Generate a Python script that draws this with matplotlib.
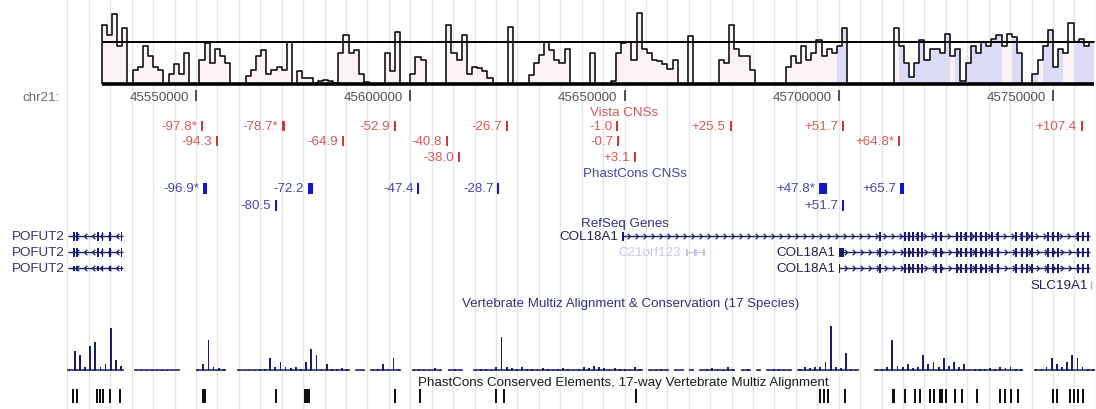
import numpy as np
import matplotlib.pyplot as plt

plt.rcParams['font.family'] = ['Liberation Sans', 'DejaVu Sans']

# chr21 window shown (bp) across the 1096 px wide image
view_start, view_end = 45504260, 45760030
bp_px = (view_end - view_start) / 1096.0
FS = 9.6

# ruler
tick_pos = [45550000, 45600000, 45650000, 45700000, 45750000]

# VISTA percent identity curve, 1.2 kb windows (fraction of full scale)
prof_start = 45528000
prof_step = 1200
prof_vals = [0.85, 0.7, 1.0, 0.55, 0.8, 0, 0.2, 0.25, 0.55, 0.4,
             0.25, 0.2, 0, 0.15, 0.28, 0.15, 0.45, 0, 0, 0.35,
             0.58, 0.3, 0.5, 0.4, 0.3, 0, 0, 0, 0.12, 0.2,
             0.4, 0.48, 0.15, 0.2, 0.25, 0.2, 0.6, 0, 0.18, 0.08,
             0.08, 0.02, 0.05, 0.06, 0.05, 0.02, 0.45, 0.7, 0.45, 0.48,
             0.15, 0.03, 0, 0, 0, 0.45, 0.18, 0.75, 0, 0,
             0.15, 0.38, 0.35, 0, 0, 0, 0, 0.85, 0.45, 0.35,
             0.7, 0.15, 0.25, 0.23, 0.18, 0.08, 0, 0, 0, 0.82,
             0, 0, 0, 0.13, 0.3, 0.42, 0.6, 0.48, 0.35, 0.3,
             0.5, 0, 0, 0, 0, 0.45, 0, 0, 0, 0.05,
             0.45, 0.58, 0.6, 0.35, 1.02, 0.5, 0.45, 0.35, 0.33, 0.28,
             0.22, 0.35, 0, 0, 0.68, 0, 0, 0, 0, 0,
             0.35, 0.3, 0.85, 0.5, 0.4, 0.4, 0.2, 0, 0, 0,
             0, 0, 0, 0.25, 0.4, 0.3, 0.55, 0.35, 0.45, 0.63,
             0.4, 0.5, 0.45, 0.55, 0.8, 0, 0, 0, 0, 0,
             0, 0, 0, 0, 0.8, 0.55, 0.3, 0.1, 0.3, 0.63,
             0.35, 0.5, 0.5, 0.45, 0.72, 0.4, 0.5, 0.05, 0.3, 0.55,
             0.45, 0.6, 0.55, 0.65, 0.7, 0.55, 0.72, 0.67, 0.45, 0,
             0, 0.15, 0.35, 0.55, 0.77, 0.25, 0.5, 0.45, 0.87, 0.6,
             0.65, 0.55, 0.6]
prof_cut = 0.6
# exonic stretches get the blue fill under the curve
exon_shade = [(45520500, 45524500), (45699500, 45701500), (45714500, 45726000),
              (45727000, 45738000), (45741000, 45746000), (45748000, 45752500),
              (45754500, 45760000)]

# CNS labels are kb offsets from the COL18A1 start
col18a1_tss = 45649500
vista_kb = [-97.8, -78.7, -52.9, -26.7, -1.0, 25.5, 51.7, 107.4,
            -94.3, -64.9, -40.8, -0.7, 64.8,
            -38.0, 3.1]
vista_row = [0, 0, 0, 0, 0, 0, 0, 0, 1, 1, 1, 1, 1, 2, 2]
vista_star = [1, 1, 0, 0, 0, 0, 0, 0, 0, 0, 0, 0, 1, 0, 0]
vista_len = [0.45, 0.7, 0.45, 0.45, 0.45, 0.45, 0.45, 0.45,
             0.45, 0.45, 0.45, 0.45, 0.45, 0.45, 0.45]

phast_kb = [-96.9, -72.2, -47.4, -28.7, 47.8, 65.7, -80.5, 51.7]
phast_row = [0, 0, 0, 0, 0, 0, 1, 1]
phast_star = [1, 0, 0, 0, 1, 0, 0, 0]
phast_len = [0.9, 1.2, 0.45, 0.45, 1.9, 0.9, 0.45, 0.45]

# RefSeq gene models (kb)
pofut2_span = (45520.1, 45533.0)
pofut2_exons = [45521.5, 45522.2, 45527.1, 45528.1, 45529.9, 45532.6]
col18a1_end = 45758.6
col18a1_short_start = 45700.0
col18a1_exons = [45709.6, 45715.5, 45716.4, 45717.3, 45718.5, 45719.4, 45722.7,
                 45723.9, 45727.6, 45728.5, 45729.7, 45730.9, 45732.0, 45733.2,
                 45734.4, 45735.8, 45737.2, 45741.4, 45742.8, 45743.9, 45745.1,
                 45748.8, 45750.0, 45751.2, 45755.8, 45757.0, 45758.2]
c21orf123_span = (45664.3, 45668.8)
c21orf123_exons = [45664.5, 45666.4, 45668.5]

# Multiz conservation, 1.2 kb windows (-1 = no alignment)
cons_start = 45519900
cons_step = 1200
cons_vals = [0.05, 0.45, 0.35, 0.1, 0.55, 0.65, 0.1, 0.15, 0.95, 0.25,
             0.12, -1, -1, 0.03, 0.03, 0.03, 0.03, 0.03, 0.03, 0.03,
             0.03, 0.03, -1, -1, -1, 0.05, 0.15, 0.7, 0.1, 0.06,
             0.05, -1, -1, 0.03, 0.03, 0.04, 0.03, 0.05, 0.04, 0.3,
             0.08, 0.2, 0.08, 0.06, 0.1, 0.05, 0.2, 0.5, 0.35, 0.05,
             0.15, 0.04, 0.04, 0.06, 0.04, -1, 0.03, 0.03, -1, 0.03,
             0.05, 0.15, 0.04, 0.3, 0.05, -1, -1, 0.03, 0.05, 0.03,
             0.02, 0.06, 0.03, -1, 0.03, 0.05, 0.03, -1, -1, 0.03,
             0.04, 0.05, 0.03, 0.1, 0.75, 0.08, 0.06, 0.05, 0.08, 0.05,
             0.04, 0.05, 0.06, 0.04, 0.03, 0.04, 0.06, 0.04, 0.03, 0.05,
             0.08, 0.06, 0.12, 0.08, 0.06, 0.05, 0.06, 0.04, 0.05, 0.03,
             0.1, 0.04, -1, 0.03, 0.03, 0.04, 0.03, -1, 0.03, 0.03,
             -1, 0.03, -1, 0.03, 0.04, 0.06, 0.05, 0.03, 0.08, 0.05,
             -1, 0.03, 0.04, -1, 0.03, -1, 0.03, 0.05, 0.04, 0.03,
             0.04, -1, 0.05, 0.08, 0.06, 0.1, 0.08, 0.2, 1.0, 0.1,
             0.06, 0.4, 0.04, 0.03, -1, -1, -1, 0.03, 0.05, 0.1,
             0.7, 0.12, 0.08, 0.15, 0.06, 0.1, 0.35, 0.15, 0.2, 0.1,
             0.3, 0.12, 0.2, 0.08, 0.15, 0.05, 0.04, 0.05, 0.04, 0.06,
             0.05, 0.1, 0.06, 0.1, 0.05, 0.04, -1, -1, 0.04, 0.05,
             0.08, 0.3, 0.15, 0.1, 0.2, 0.35, 0.3, 0.1, 0.05, 0.04]

# PhastCons conserved elements: centre (kb) and length (kb)
elem_kb = [45521.3, 45522.2, 45526.9, 45527.6, 45528.3, 45529.9, 45532.3,
           45551.9, 45568.7, 45575.9, 45596.4, 45602.3, 45620.0, 45621.9,
           45652.7, 45695.6, 45696.6, 45697.5, 45701.5, 45712.7, 45715.5,
           45717.8, 45719.0, 45721.3, 45722.2, 45723.9, 45725.0, 45727.1,
           45728.8, 45732.3, 45737.6, 45738.8, 45740.2, 45741.8, 45750.0,
           45750.9, 45754.0, 45754.9, 45755.8, 45757.0]
elem_len = [0.35, 0.35, 0.35, 0.35, 0.35, 0.35, 0.35,
            0.9, 0.35, 1.4, 0.35, 0.35, 0.45, 0.45,
            0.35, 0.45, 0.45, 0.45, 0.45, 0.7, 0.45,
            0.45, 0.45, 0.6, 0.6, 0.9, 0.6, 0.45,
            0.45, 0.45, 0.45, 0.45, 0.45, 0.45, 0.45,
            0.45, 0.45, 0.45, 0.45, 0.45]

RED_TXT, RED_MARK = '#d8585e', '#c83c3c'
BLUE_TXT, BLUE_MARK = '#4545b0', '#1414c8'
NAVY = '#1c1c6a'


def px(n):
    return n * bp_px


def kb(v):
    return v * 1000.0


fig = plt.figure(figsize=(10.96, 4.10), dpi=100)
ax = fig.add_axes([0, 0, 1, 1])
ax.set_xlim(view_start, view_end)
ax.set_ylim(410, 0)
ax.axis('off')

# light vertical guide lines every 5 kb
for g in range(45520000, 45760001, 5000):
    ax.axvline(g, color='#e6e6e6', lw=1, zorder=0)

# --- VISTA curve ---
base_y, full_h = 85, 70
pv = np.array(prof_vals)
pxs = prof_start + prof_step * np.arange(len(pv))
mid = pxs + prof_step / 2
shade = np.zeros(len(pv), bool)
for a, b in exon_shade:
    shade |= (mid >= a) & (mid <= b)
cols = np.where(shade, '#dcdcf6', '#faf2f4')
ax.bar(pxs, -pv * full_h, width=prof_step, bottom=base_y, align='edge',
       color=cols, linewidth=0, zorder=1)
xs = np.append(pxs, pxs[-1] + prof_step)
ys = np.append(base_y - pv * full_h, base_y - pv[-1] * full_h)
ax.step(xs, ys, where='post', color='black', lw=1.1, zorder=3)
ax.vlines(xs[0], base_y, ys[0], color='black', lw=1.1, zorder=3)
ax.hlines(base_y - prof_cut * full_h, xs[0], xs[-1], color='black', lw=1.4, zorder=4)
ax.hlines(base_y, xs[0], xs[-1], color='black', lw=2.6, zorder=4)

# --- position ruler ---
ax.text(view_start + px(22), 98, 'chr21:', fontsize=FS, color='#6a6a6a', va='center')
for t in tick_pos:
    ax.vlines(t, 91, 102, color='#444444', lw=1.3)
    ax.text(t - px(7), 98, str(t), fontsize=FS, color='#555555', ha='right', va='center')

# --- Vista CNSs ---
ax.text(45650000, 113, 'Vista CNSs', fontsize=FS, color=RED_TXT, ha='center', va='center')
vista_y = [127, 142, 158]
for v, r, s, w in zip(vista_kb, vista_row, vista_star, vista_len):
    right = col18a1_tss + kb(v)
    left = right - kb(w)
    y = vista_y[r]
    ax.fill_between([left, right], y - 5, y + 5, color=RED_MARK, lw=0)
    lab = f'{v:+.1f}' + ('*' if s else '')
    ax.text(left - px(4), y, lab, fontsize=FS, color=RED_TXT, ha='right', va='center')

# --- PhastCons CNSs ---
ax.text(45652500, 174, 'PhastCons CNSs', fontsize=FS, color=BLUE_TXT, ha='center', va='center')
phast_y = [189, 206]
for v, r, s, w in zip(phast_kb, phast_row, phast_star, phast_len):
    right = col18a1_tss + kb(v)
    left = right - kb(w)
    y = phast_y[r]
    ax.fill_between([left, right], y - 5.5, y + 5.5, color=BLUE_MARK, lw=0)
    lab = f'{v:+.1f}' + ('*' if s else '')
    ax.text(left - px(4), y, lab, fontsize=FS, color=BLUE_TXT, ha='right', va='center')


# --- RefSeq genes ---
def gene(y, start, end, exons, strand, color, exon_h=9, ew=0.4):
    ax.hlines(y, start, end, color=color, lw=1.0, zorder=2)
    step = px(8)
    xs_ch = np.arange(start + step, end - step / 2, step)
    mk = [(-1, 1), (0, 0), (-1, -1)] if strand > 0 else [(1, 1), (0, 0), (1, -1)]
    ax.plot(xs_ch, np.full(len(xs_ch), y), ls='none', marker=mk, ms=4,
            mfc='none', mec=color, mew=0.9, zorder=2)
    for e in exons:
        ax.fill_between([kb(e) - kb(ew) / 2, kb(e) + kb(ew) / 2], y - exon_h / 2,
                        y + exon_h / 2, color=color, lw=0, zorder=3)


ax.text(45650000, 224, 'RefSeq Genes', fontsize=FS, color='#33337c', ha='center', va='center')
gene_y = [237, 253, 269]
for i, y in enumerate(gene_y):
    h = 9 if i < 2 else 5
    gene(y, kb(pofut2_span[0]), kb(pofut2_span[1]), pofut2_exons, -1, NAVY, exon_h=h, ew=0.3)
    ax.text(kb(pofut2_span[0]) - px(3), y, 'POFUT2', fontsize=FS, color='#34345a',
            ha='right', va='center')

gene(gene_y[0], col18a1_tss, kb(col18a1_end), [col18a1_tss / 1000 + 0.1] + col18a1_exons,
     1, NAVY, ew=0.4)
ax.text(col18a1_tss - px(4), gene_y[0], 'COL18A1', fontsize=FS, color='#202048',
        ha='right', va='center')
for i, y in enumerate(gene_y[1:]):
    ew0 = 1.2 if i == 0 else 0.3
    gene(y, kb(col18a1_short_start), kb(col18a1_end), col18a1_exons, 1, NAVY, ew=0.4)
    ax.fill_between([kb(col18a1_short_start), kb(col18a1_short_start + ew0)],
                    y - 4.5, y + 4.5, color=NAVY, lw=0, zorder=3)
    ax.text(kb(col18a1_short_start) - px(4), y, 'COL18A1', fontsize=FS, color='#202048',
            ha='right', va='center')

gene(gene_y[1], kb(c21orf123_span[0]), kb(c21orf123_span[1]), c21orf123_exons, -1,
     '#c4c4e0', exon_h=7, ew=0.4)
ax.text(kb(c21orf123_span[0]) - px(5), gene_y[1], 'C21orf123', fontsize=FS,
        color='#c8c8e4', ha='right', va='center')
ax.text(view_end - px(8), 286, 'SLC19A1', fontsize=FS, color='#202048', ha='right', va='center')
ax.vlines(view_end - px(5), 282, 290, color='#b0b0b0', lw=1)

# --- Multiz conservation ---
ax.text(45651500, 304, 'Vertebrate Multiz Alignment & Conservation (17 Species)',
        fontsize=FS, color='#33337c', ha='center', va='center')
cons_y, cons_h = 372, 45
cv = np.array(cons_vals)
cx = cons_start + cons_step * np.arange(len(cv))
ok = cv >= 0
for x0 in cx[ok]:
    ax.hlines(cons_y - 1, x0, x0 + cons_step, color=NAVY, lw=1.1)
ax.bar(cx[ok] + cons_step / 2, -cv[ok] * cons_h, width=cons_step * 0.35,
       bottom=cons_y, color=NAVY, lw=0)

# --- PhastCons elements ---
ax.text(view_start + px(418), 383,
        'PhastCons Conserved Elements, 17-way Vertebrate Multiz Alignment',
        fontsize=FS, color='#1a1a1a', ha='left', va='center')
for c, l in zip(elem_kb, elem_len):
    ax.fill_between([kb(c - l / 2), kb(c + l / 2)], 390, 404, color='#111111', lw=0)

fig.savefig('out.png', dpi=100)
